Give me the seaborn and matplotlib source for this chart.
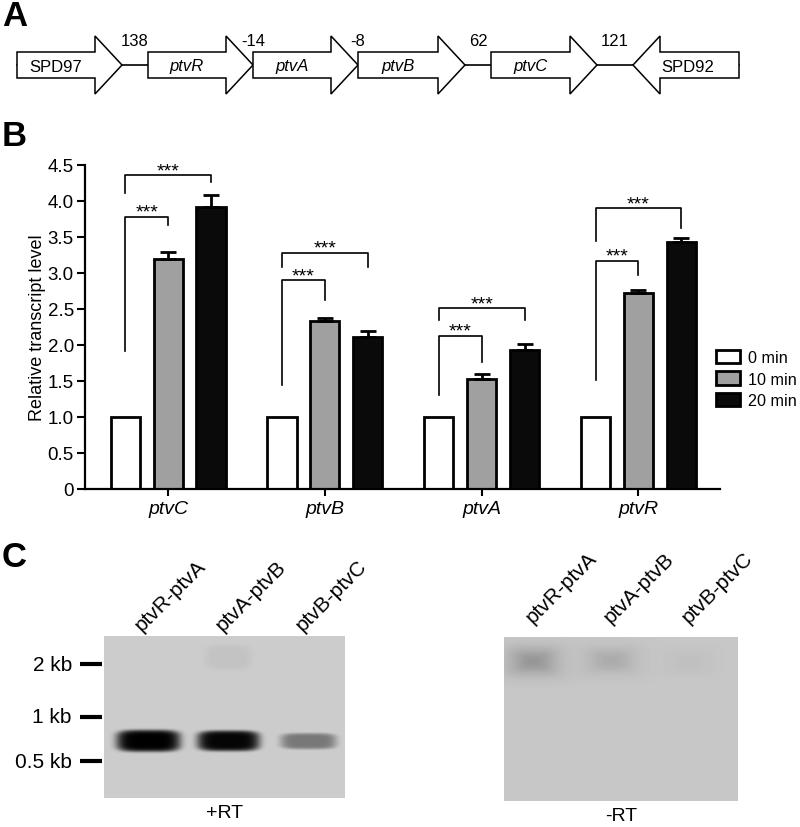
import numpy as np
import pandas as pd
import matplotlib
matplotlib.use("Agg")
import matplotlib.pyplot as plt
from matplotlib.patches import Polygon, Patch
import seaborn as sns

plt.rcParams["font.family"] = ["Liberation Sans", "DejaVu Sans"]

# ── Panel A: operon map (layout units ~ pixels) ───────────────────────────
gene_names  = ["SPD97", "ptvR", "ptvA", "ptvB", "ptvC", "SPD92"]
gene_start  = [17, 148, 253, 358, 491, 633]
gene_end    = [122, 253, 358, 465, 597, 739]
gene_strand = [1, 1, 1, 1, 1, -1]
spacer_bp   = ["138", "-14", "-8", "62", "121"]

# ── Panel B: qRT-PCR ──────────────────────────────────────────────────────
targets  = ["ptvC", "ptvB", "ptvA", "ptvR"]
times    = ["0 min", "10 min", "20 min"]
level_0  = [1.0, 1.0, 1.0, 1.0]
level_10 = [3.20, 2.34, 1.53, 2.72]
level_20 = [3.91, 2.11, 1.93, 3.43]
err_10   = [0.09, 0.04, 0.07, 0.05]
err_20   = [0.17, 0.08, 0.09, 0.06]

# significance brackets (0 vs 10 min, 0 vs 20 min)
sig10_top   = [3.78, 2.90, 2.13, 3.17]
sig10_left  = [1.91, 1.44, 1.31, 1.51]
sig10_right = [3.67, 2.62, 1.76, 2.97]
sig20_top   = [4.36, 3.28, 2.51, 3.90]
sig20_left  = [4.11, 3.09, 2.35, 3.44]
sig20_right = [4.27, 3.09, 2.35, 3.63]

ytick_vals   = [0, 0.5, 1.0, 1.5, 2.0, 2.5, 3.0, 3.5, 4.0, 4.5]
ytick_labels = ["0", "0.5", "1.0", "1.5", "2.0", "2.5", "3.0", "3.5", "4.0", "4.5"]

# ── Panel C: RT-PCR gels ──────────────────────────────────────────────────
lane_labels = ["ptvR-ptvA", "ptvA-ptvB", "ptvB-ptvC"]
marker_kb   = ["2 kb", "1 kb", "0.5 kb"]
marker_pos  = [0.173, 0.50, 0.772]      # fraction of gel height from top
# +RT bands: lane, position, strength, half-width, half-height
rt_lane  = [1, 2, 3, 2]
rt_pos   = [0.648, 0.648, 0.650, 0.13]
rt_amp   = [0.80, 0.78, 0.33, 0.035]
rt_hw    = [0.40, 0.39, 0.35, 0.30]
rt_hh    = [0.068, 0.064, 0.050, 0.08]
# -RT smears
nrt_lane = [1, 2, 3]
nrt_pos  = [0.146, 0.14, 0.15]
nrt_amp  = [0.19, 0.11, 0.03]
nrt_hw   = [0.32, 0.32, 0.30]
nrt_hh   = [0.085, 0.08, 0.08]

W, H = 800, 828
fig = plt.figure(figsize=(W / 100, H / 100), dpi=100)


def px_axes(x0, y0, x1, y1):
    return fig.add_axes([x0 / W, 1 - y1 / H, (x1 - x0) / W, (y1 - y0) / H])


# ── A ─────────────────────────────────────────────────────────────────────
axA = px_axes(0, 0, 800, 110)
axA.set_xlim(0, 800)
axA.set_ylim(110, 0)
axA.axis("off")
yc, bh, hh, hl = 66, 13, 29, 27
axA.plot([gene_start[0], gene_end[-1]], [yc, yc], color="black", lw=1.2, zorder=1)
for name, s, e, st in zip(gene_names, gene_start, gene_end, gene_strand):
    if st == 1:
        pts = [(s, yc - bh), (e - hl, yc - bh), (e - hl, yc - hh), (e, yc),
               (e - hl, yc + hh), (e - hl, yc + bh), (s, yc + bh)]
        lx = (s + e - hl) / 2
    else:
        pts = [(e, yc - bh), (s + hl, yc - bh), (s + hl, yc - hh), (s, yc),
               (s + hl, yc + hh), (s + hl, yc + bh), (e, yc + bh)]
        lx = (s + hl + e) / 2 - 12
    axA.add_patch(Polygon(pts, closed=True, facecolor="white", edgecolor="black",
                          lw=1.1, zorder=2, joinstyle="miter"))
    axA.text(lx, yc + 1, name, ha="center", va="center", fontsize=12,
             fontstyle="italic" if name.startswith("ptv") else "normal", zorder=3)
for i, lab in enumerate(spacer_bp):
    axA.text((gene_end[i] + gene_start[i + 1]) / 2, 41, lab,
             ha="center", va="center", fontsize=12)

# ── B ─────────────────────────────────────────────────────────────────────
axB = px_axes(85, 166, 720, 490)
df = pd.DataFrame({
    "gene":  targets * 3,
    "time":  np.repeat(times, len(targets)),
    "level": level_0 + level_10 + level_20,
})
bar_colors = ["white", "#a0a0a0", "#0a0a0a"]
sns.barplot(data=df, x="gene", y="level", hue="time", order=targets, hue_order=times,
            palette=bar_colors, saturation=1, edgecolor="black", linewidth=2,
            width=0.82, gap=0.32, errorbar=None, legend=False, ax=axB)

centers = [[b.get_x() + b.get_width() / 2 for b in c] for c in axB.containers]
for k, (lev, err) in enumerate([(level_10, err_10), (level_20, err_20)], start=1):
    axB.errorbar(centers[k], lev, yerr=[np.zeros(len(err)), err], fmt="none",
                 ecolor="black", elinewidth=2, capsize=6, capthick=2, zorder=3)

for j in range(len(targets)):
    x0, x1, x2 = centers[0][j], centers[1][j], centers[2][j]
    axB.plot([x0, x0, x1, x1], [sig10_left[j], sig10_top[j], sig10_top[j], sig10_right[j]],
             color="black", lw=1.2, clip_on=False)
    axB.plot([x0, x0, x2, x2], [sig20_left[j], sig20_top[j], sig20_top[j], sig20_right[j]],
             color="black", lw=1.2, clip_on=False)
    axB.text((x0 + x1) / 2, sig10_top[j], "***", ha="center", va="baseline", fontsize=14)
    axB.text((x0 + x2) / 2, sig20_top[j], "***", ha="center", va="baseline", fontsize=14)

axB.set_xlim(-0.53, 3.52)
axB.set_ylim(0, 4.5)
axB.set_yticks(ytick_vals)
axB.set_yticklabels(ytick_labels)
axB.set_xlabel("")
axB.set_ylabel("Relative transcript level", fontsize=13, labelpad=1)
sns.despine(ax=axB)
for sp in ["left", "bottom"]:
    axB.spines[sp].set_linewidth(1.6)
axB.tick_params(axis="y", length=6, width=1.5, labelsize=13.5, pad=2)
axB.tick_params(axis="x", length=5, width=1.5, labelsize=14, pad=3)
for lbl in axB.get_xticklabels():
    lbl.set_fontstyle("italic")

handles = [Patch(facecolor=c, edgecolor="black", lw=2) for c in bar_colors]
axB.legend(handles, times, loc="center left", bbox_to_anchor=(716 / W, 1 - 380 / H),
           bbox_transform=fig.transFigure, frameon=False, fontsize=11.6,
           borderpad=0, borderaxespad=0, handlelength=1.5, handleheight=0.9,
           handletextpad=0.5, labelspacing=0.4)


# ── C ─────────────────────────────────────────────────────────────────────
def gel_image(x0, x1, bg, lanes, pos, amps, hws, hhs, sharp, shape):
    gx = np.linspace(x0, x1, shape[1])
    gy = np.linspace(0, 1, shape[0])
    X, Y = np.meshgrid(gx, gy)
    img = np.full(shape, bg)
    for ln, p, a, hw, hh_ in zip(lanes, pos, amps, hws, hhs):
        r = (np.abs((X - ln) / hw) ** 4 + np.abs((Y - p) / hh_) ** 4) ** 0.25
        img -= a * np.exp(-r ** sharp)
    return np.clip(img, 0, 1)


gels = [
    (px_axes(104, 637, 345, 799), (0.45, 3.45), 0.80,
     (rt_lane, rt_pos, rt_amp, rt_hw, rt_hh, 7), "+RT", -0.04, -0.012),
    (px_axes(504, 638, 738, 802), (0.63, 3.63), 0.78,
     (nrt_lane, nrt_pos, nrt_amp, nrt_hw, nrt_hh, 2), "-RT", 0.04, -0.067),
]
for ax, (gx0, gx1), bg, (ln, ps, am, hws, hhs, sh), tag, dx, dy in gels:
    bb = ax.get_position()
    shape = (int(round(bb.height * H)), int(round(bb.width * W)))
    img = gel_image(gx0, gx1, bg, ln, ps, am, hws, hhs, sh, shape)
    ax.imshow(img, cmap="gray", vmin=0, vmax=1, extent=(gx0, gx1, 1, 0),
              aspect="auto", interpolation="nearest")
    ax.set_xlim(gx0, gx1)
    ax.set_ylim(1, 0)
    ax.axis("off")
    for i, lab in enumerate(lane_labels):
        ax.text(i + 1 + dx, dy, lab, rotation=45, rotation_mode="anchor",
                ha="left", va="bottom", fontsize=15)
    ax.text((gx0 + gx1) / 2, 1.09, tag, ha="center", va="center", fontsize=14)

axL = gels[0][0]
for lab, p in zip(marker_kb, marker_pos):
    axL.plot([0.151, 0.425], [p, p], color="black", lw=3, clip_on=False,
             solid_capstyle="butt")
    axL.text(0.05, p, lab, ha="right", va="center", fontsize=15)

# panel letters
for letter, ytop in [("A", 0), ("B", 120), ("C", 541)]:
    fig.text(2 / W, 1 - ytop / H, letter, ha="left", va="top",
             fontsize=25, fontweight="bold")

fig.savefig("out.png", dpi=100)
